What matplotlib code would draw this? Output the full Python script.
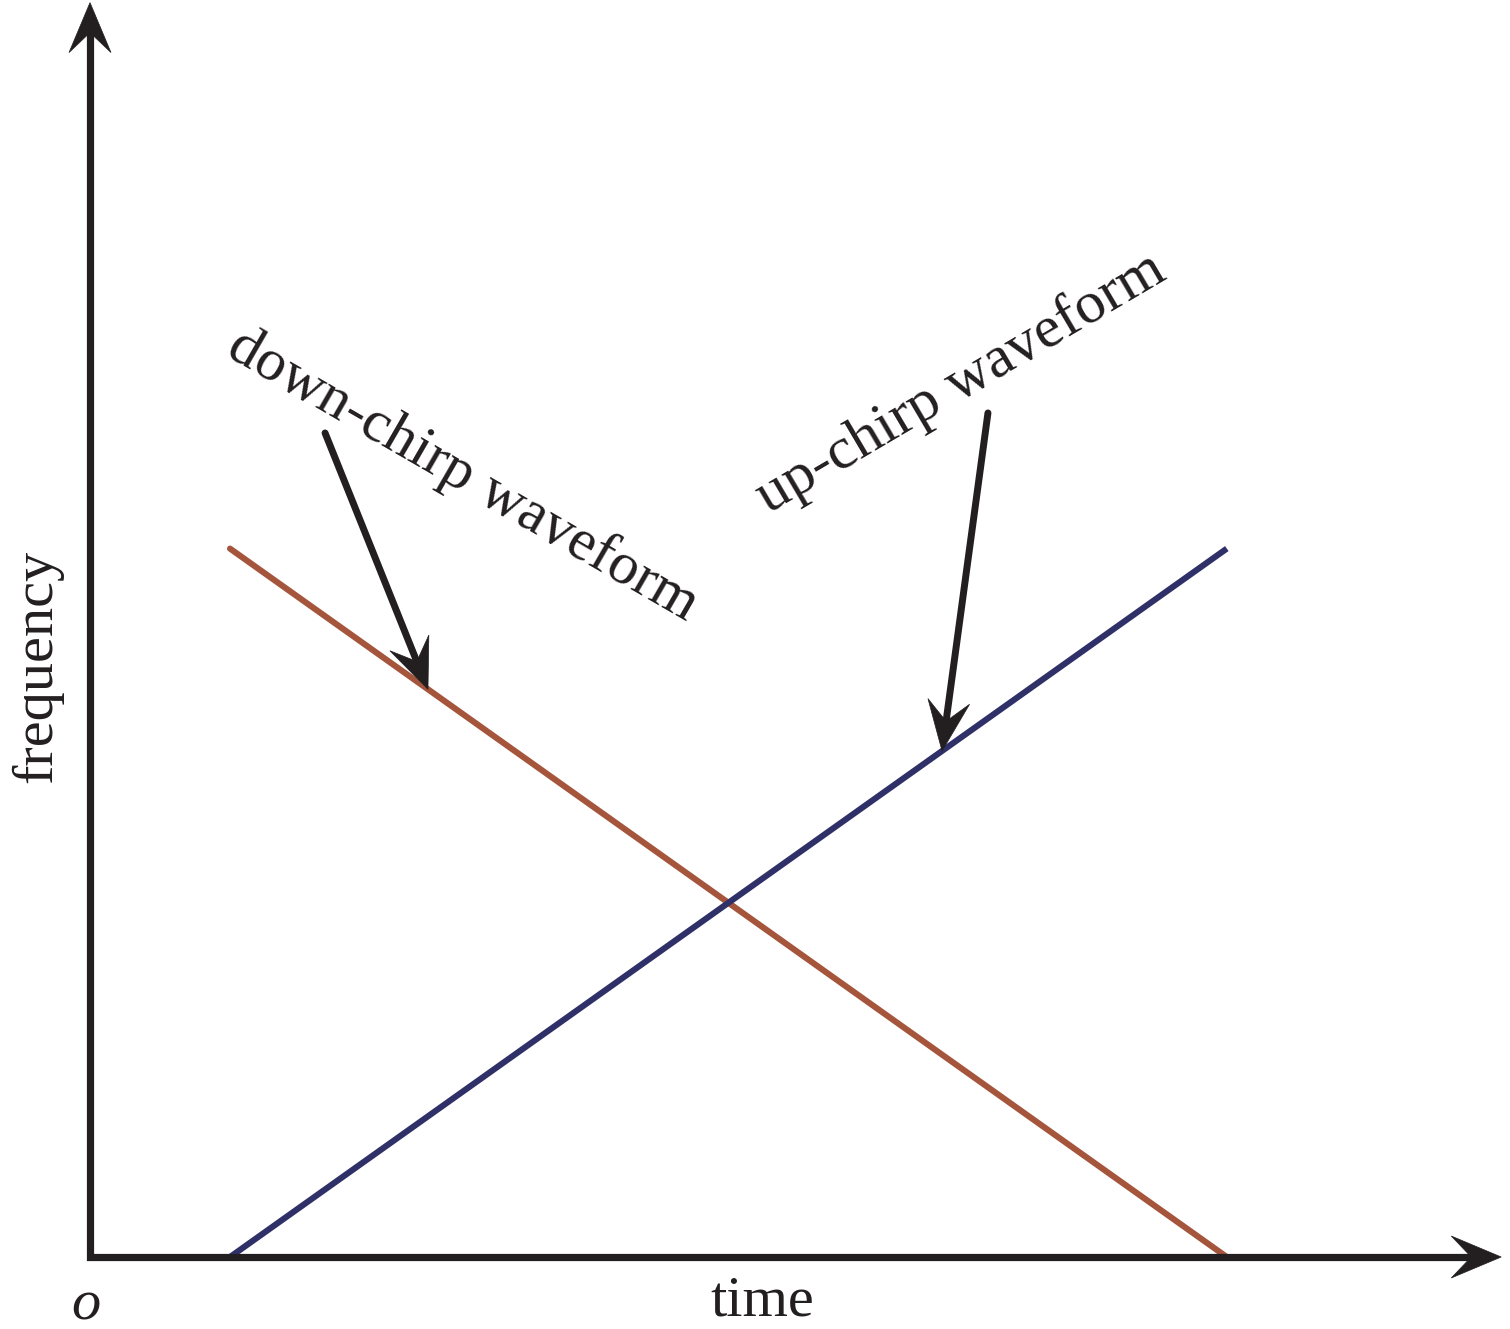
# Up-chirp / down-chirp waveform sketch
import numpy as np
import matplotlib.pyplot as plt
from matplotlib.patches import Polygon

# data
time = [1.0, 8.12]
up_freq = [0.0, 5.06]
down_freq = [5.06, 0.0]

down_label = "down-chirp waveform"
up_label = "up-chirp waveform"
x_label = "time"
y_label = "frequency"
origin_label = "o"

ink = "#231F20"
brown = "#A5553B"
navy = "#2F3068"
font = ["Liberation Serif", "DejaVu Serif"]

fig = plt.figure(figsize=(15.10, 13.29), dpi=100)
ax = fig.add_axes([0, 0, 1, 1])
ax.set_xlim(-90 / 140, 1420 / 140)
ax.set_ylim(-72 / 140, 1257 / 140)
ax.set_aspect("equal")
ax.axis("off")


def head(tip, direction, length=0.357, half=0.15, notch=0.214):
    d = np.array(direction, float)
    d = d / np.hypot(*d)
    p = np.array([-d[1], d[0]])
    tip = np.array(tip, float)
    back = tip - d * length
    pts = [tip, back + p * half, tip - d * notch, back - p * half]
    ax.add_patch(Polygon(pts, closed=True, facecolor=ink, edgecolor=ink,
                         linewidth=0.5, zorder=5))


def pointer(tail, tip):
    tail = np.array(tail)
    tip = np.array(tip)
    d = tip - tail
    end = tip - d / np.hypot(*d) * 0.2
    ax.plot([tail[0], end[0]], [tail[1], end[1]], color=ink, lw=5,
            solid_capstyle="round", zorder=4)
    head(tip, d)


# axes with arrows
x_end = 10.08
y_end = 8.96
ax.plot([0, 0, x_end - 0.2], [y_end - 0.2, 0, 0], color=ink, lw=5.2,
        solid_joinstyle="miter", solid_capstyle="butt", zorder=3)
head((x_end, 0), (1, 0))
head((0, y_end), (0, 1))

# chirp lines
ax.plot(time, down_freq, color=brown, lw=4.4, solid_capstyle="round", zorder=2)
ax.plot(time, up_freq, color=navy, lw=4.4, solid_capstyle="butt", zorder=2)

# pointers to the lines
t_down = 2.414
t_up = 6.086
pointer((1.679, 5.886), (t_down, np.interp(t_down, time, down_freq)))
pointer((6.414, 6.029), (t_up, np.interp(t_up, time, up_freq)))

# labels
ax.text(0.964, 6.443, down_label, rotation=-30, rotation_mode="anchor",
        ha="left", va="baseline", fontsize=43, family=font, color=ink)
ax.text(4.843, 5.307, up_label, rotation=30.5, rotation_mode="anchor",
        ha="left", va="baseline", fontsize=43.5, family=font, color=ink)
ax.text(4.8, -0.421, x_label, ha="center", va="baseline", fontsize=42,
        family=font, color=ink)
ax.text(-0.379, 4.221, y_label, rotation=90, ha="center", va="center",
        fontsize=42, family=font, color=ink)
ax.text(-0.029, -0.45, origin_label, ha="center", va="baseline", fontsize=42,
        style="italic", family=font, color=ink)

fig.savefig("out.png", dpi=100)
